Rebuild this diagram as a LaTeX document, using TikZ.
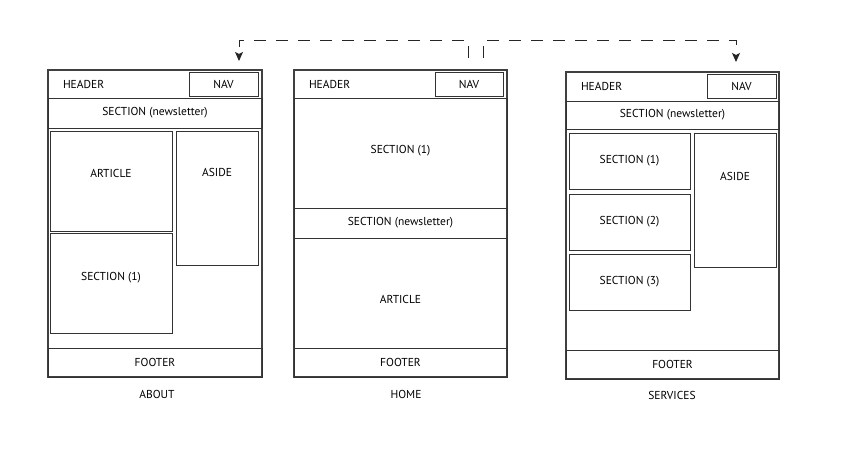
\documentclass[tikz,border=0pt]{standalone}
\usepackage{fontspec}
\setmainfont{PT Sans}
\usetikzlibrary{arrows.meta}
\tikzstyle{frame}=[draw=black!75,line width=1.1pt,inner sep=0pt]
\tikzstyle{bx}=[draw=black!80,line width=0.9pt,inner sep=0pt]
\tikzstyle{hd}=[draw=black!75,line width=0.9pt,inner ysep=0pt,inner xsep=15pt,align=left]
\tikzstyle{txt}=[inner sep=0pt]
\tikzstyle{link}=[draw=black!85,line width=0.9pt,dash pattern=on 12pt off 10pt,-{Stealth[length=9pt,width=8pt,inset=2pt]}]

\begin{document}
\begin{tikzpicture}[x=1pt,y=-1pt,font=\fontsize{11.5}{13}\selectfont]
\useasboundingbox (0,0) rectangle (842,450);

\node[frame,minimum width=214pt,minimum height=307pt] (pageA) at (155,223.5) {};
\node[hd,text width=184pt,minimum height=28pt] (headA) at (155,84) {HEADER};
\node[bx,minimum width=69pt,minimum height=24pt] (navA) at (223.5,84) {NAV};
\node[bx,minimum width=214pt,minimum height=30pt] (newsA) at (155,113) {SECTION (newsletter)};
\node[bx,minimum width=122pt,minimum height=100pt] (artA) at (111,181) {};
\node[txt] (artAt) at (111,173) {ARTICLE};
\node[bx,minimum width=82pt,minimum height=134pt] (asideA) at (217,198) {};
\node[txt] (asideAt) at (217,172) {ASIDE};
\node[bx,minimum width=122pt,minimum height=100pt] (secA) at (111,283) {};
\node[txt] (secAt) at (111,278) {SECTION (1)};
\node[bx,minimum width=214pt,minimum height=29pt] (footA) at (155,362.5) {FOOTER};
\node[txt] (labA) at (157,394) {ABOUT};

\node[frame,minimum width=213pt,minimum height=307pt] (pageH) at (400.5,223.5) {};
\node[hd,text width=183pt,minimum height=28pt] (headH) at (400.5,84) {HEADER};
\node[bx,minimum width=68pt,minimum height=24pt] (navH) at (469,84) {NAV};
\node[bx,minimum width=213pt,minimum height=110pt] (secH) at (400.5,153) {};
\node[txt] (secHt) at (400.5,151) {SECTION (1)};
\node[bx,minimum width=213pt,minimum height=30pt] (newsH) at (400.5,223) {SECTION (newsletter)};
\node[bx,minimum width=213pt,minimum height=110pt] (artH) at (400.5,293) {};
\node[txt] (artHt) at (400.5,299) {ARTICLE};
\node[bx,minimum width=213pt,minimum height=29pt] (footH) at (400.5,362.5) {FOOTER};
\node[txt] (labH) at (406,394) {HOME};

\node[frame,minimum width=213pt,minimum height=307pt] (pageS) at (672.5,225.5) {};
\node[hd,text width=183pt,minimum height=29pt] (headS) at (672.5,86.5) {HEADER};
\node[bx,minimum width=69pt,minimum height=24pt] (navS) at (741.5,86) {NAV};
\node[bx,minimum width=213pt,minimum height=28pt] (newsS) at (672.5,115) {SECTION (newsletter)};
\node[bx,minimum width=121pt,minimum height=56pt] (s1S) at (629.5,161) {SECTION (1)};
\node[bx,minimum width=121pt,minimum height=56pt] (s2S) at (629.5,222) {SECTION (2)};
\node[bx,minimum width=121pt,minimum height=56pt] (s3S) at (629.5,282) {SECTION (3)};
\node[bx,minimum width=82pt,minimum height=134pt] (asideS) at (735,200) {};
\node[txt] (asideSt) at (735,176) {ASIDE};
\node[bx,minimum width=213pt,minimum height=29pt] (footS) at (672.5,364.5) {FOOTER};
\node[txt] (labS) at (672,395) {SERVICES};

\coordinate (outL) at (468,58);
\coordinate (outR) at (483,58);
\coordinate (inA) at (239,61);
\coordinate (inS) at (736,62);
\draw[link] (outL) -- ++(0,-18) -| (inA);
\draw[link] (outR) -- ++(0,-18) -| (inS);
\end{tikzpicture}
\end{document}
